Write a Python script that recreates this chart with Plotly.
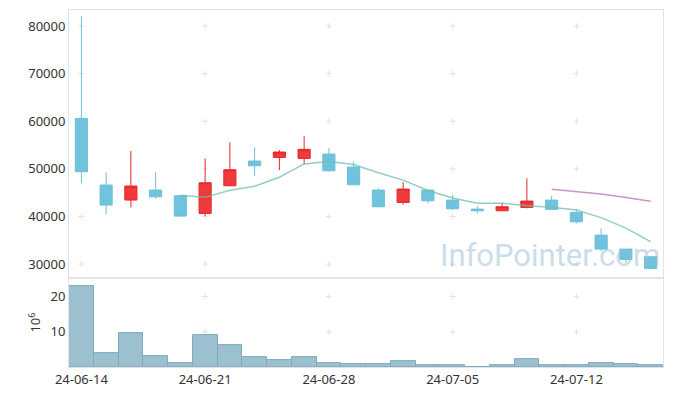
import pandas as pd
import plotly.graph_objects as go
from plotly.subplots import make_subplots

dates = ["24-06-14", "24-06-17", "24-06-18", "24-06-19", "24-06-20", "24-06-21",
         "24-06-24", "24-06-25", "24-06-26", "24-06-27", "24-06-28",
         "24-07-01", "24-07-02", "24-07-03", "24-07-04", "24-07-05",
         "24-07-08", "24-07-09", "24-07-10", "24-07-11", "24-07-12",
         "24-07-15", "24-07-16", "24-07-17"]
opens = [60600, 46600, 43450, 45550, 44350, 40650, 46450, 51640, 52410, 52200, 53110, 50380,
         45550, 42960, 45550, 43450, 41550, 41200, 41910, 43450, 40860, 36090, 33150, 31540]
highs = [82100, 49270, 53740, 49270, 44400, 52200, 55570, 54520, 53950, 56890, 54310, 51490,
         45900, 47230, 45700, 44500, 42190, 42880, 48000, 44290, 41490, 37500, 33150, 31540]
lows = [46950, 40440, 41910, 43720, 40000, 40080, 46400, 48490, 49750, 51010, 49500, 46600,
        41910, 42460, 42750, 41350, 40650, 41200, 41700, 41400, 38550, 32730, 30270, 29100]
closes = [49400, 42400, 46390, 44140, 40080, 47080, 49820, 50650, 53530, 54100, 49600, 46660,
          42040, 45760, 43300, 41620, 41200, 42040, 43240, 41490, 38890, 33150, 30990, 29100]
volumes_m = [22.9, 3.9, 9.5, 3.06, 1.1, 9.2, 6.15, 2.8, 1.9, 2.8, 1.1, 0.8,
             0.8, 1.65, 0.5, 0.5, 0.0, 0.5, 2.2, 0.5, 0.5, 1.1, 0.8, 0.5]

x_tick_labels = ["24-06-14", "24-06-21", "24-06-28", "24-07-05", "24-07-12"]
price_ticks = [30000, 40000, 50000, 60000, 70000, 80000]
price_tick_text = ["30000", "40000", "50000", "60000", "70000", "80000"]
vol_ticks = [10, 20]
vol_tick_text = ["10", "20"]

close_s = pd.Series(closes)
ma5 = close_s.rolling(5).mean()
ma20 = close_s.rolling(20).mean()

FONT = "Noto Sans"
LINE = "#e3e3e3"
CROSS = "#e2e2e2"

fig = make_subplots(rows=2, cols=1, shared_xaxes=True, vertical_spacing=0,
                    row_heights=[0.751, 0.249])

fig.add_trace(go.Candlestick(
    x=dates, open=opens, high=highs, low=lows, close=closes,
    increasing=dict(fillcolor="#ee3a3a", line=dict(color="#e8262a", width=1)),
    decreasing=dict(fillcolor="#70c3dc", line=dict(color="#6cc0da", width=1)),
    whiskerwidth=0, showlegend=False), row=1, col=1)

fig.add_trace(go.Scatter(x=dates, y=ma5, mode="lines", showlegend=False,
                         line=dict(color="rgba(110,190,175,0.75)", width=1.5)), row=1, col=1)
fig.add_trace(go.Scatter(x=dates, y=ma20, mode="lines", showlegend=False,
                         line=dict(color="rgba(195,130,190,0.85)", width=1.5)), row=1, col=1)

fig.add_trace(go.Bar(x=dates, y=volumes_m, width=1, showlegend=False,
                     marker=dict(color="#9cc0cf", line=dict(color="#7eaabf", width=1))),
              row=2, col=1)


# faint grid crosses at the tick intersections, drawn beneath the data
def add_cross(xv, yv, xref, yref):
    fig.add_shape(type="line", layer="below", xref=xref, yref=yref,
                  xsizemode="pixel", xanchor=xv, x0=-3, x1=3, y0=yv, y1=yv,
                  line=dict(color=CROSS, width=1))
    fig.add_shape(type="line", layer="below", xref=xref, yref=yref,
                  ysizemode="pixel", yanchor=yv, y0=-3, y1=3, x0=xv, x1=xv,
                  line=dict(color=CROSS, width=1))


for i, d in enumerate(dates):
    if d in x_tick_labels:
        for yv in price_ticks:
            add_cross(i, yv, "x", "y")
        for yv in vol_ticks:
            add_cross(i, yv, "x2", "y2")

fig.add_annotation(text="InfoPointer.com", xref="paper", yref="paper", x=0.81, y=0.311,
                   xanchor="center", yanchor="middle",
                   showarrow=False, font=dict(family="Roboto", size=31,
                                              color="rgba(150,188,210,0.5)"))

fig.update_xaxes(type="category", categoryorder="array", categoryarray=dates,
                 range=[-0.5, 23.5], showgrid=False, showline=True, linecolor=LINE,
                 mirror=True, ticks="", rangeslider_visible=False, automargin=False,
                 tickvals=x_tick_labels, ticktext=x_tick_labels,
                 tickfont=dict(family=FONT, size=13, color="#333"))
fig.update_xaxes(showticklabels=False, row=1, col=1)

fig.update_yaxes(range=[27060, 83360], tickvals=price_ticks, ticktext=price_tick_text,
                 showgrid=False, automargin=False,
                 showline=True, linecolor=LINE, mirror=True, zeroline=False,
                 tickfont=dict(family=FONT, size=13, color="#333"), row=1, col=1)
fig.update_yaxes(range=[0, 25.25], tickvals=vol_ticks, ticktext=vol_tick_text,
                 showgrid=False, automargin=False,
                 showline=True, linecolor=LINE, mirror=True, zeroline=False,
                 title=dict(text="10<sup>6</sup>", font=dict(family=FONT, size=13, color="#333"),
                            standoff=6),
                 tickfont=dict(family=FONT, size=13, color="#333"), row=2, col=1)

# the page body adds an 8px offset, so the figure is sized to fit the window
fig.update_layout(width=657, height=380, margin=dict(l=61, r=2, t=2, b=21),
                  plot_bgcolor="white", paper_bgcolor="white", showlegend=False,
                  bargap=0, font=dict(family=FONT, color="#333"))

fig.write_html("out.html")
